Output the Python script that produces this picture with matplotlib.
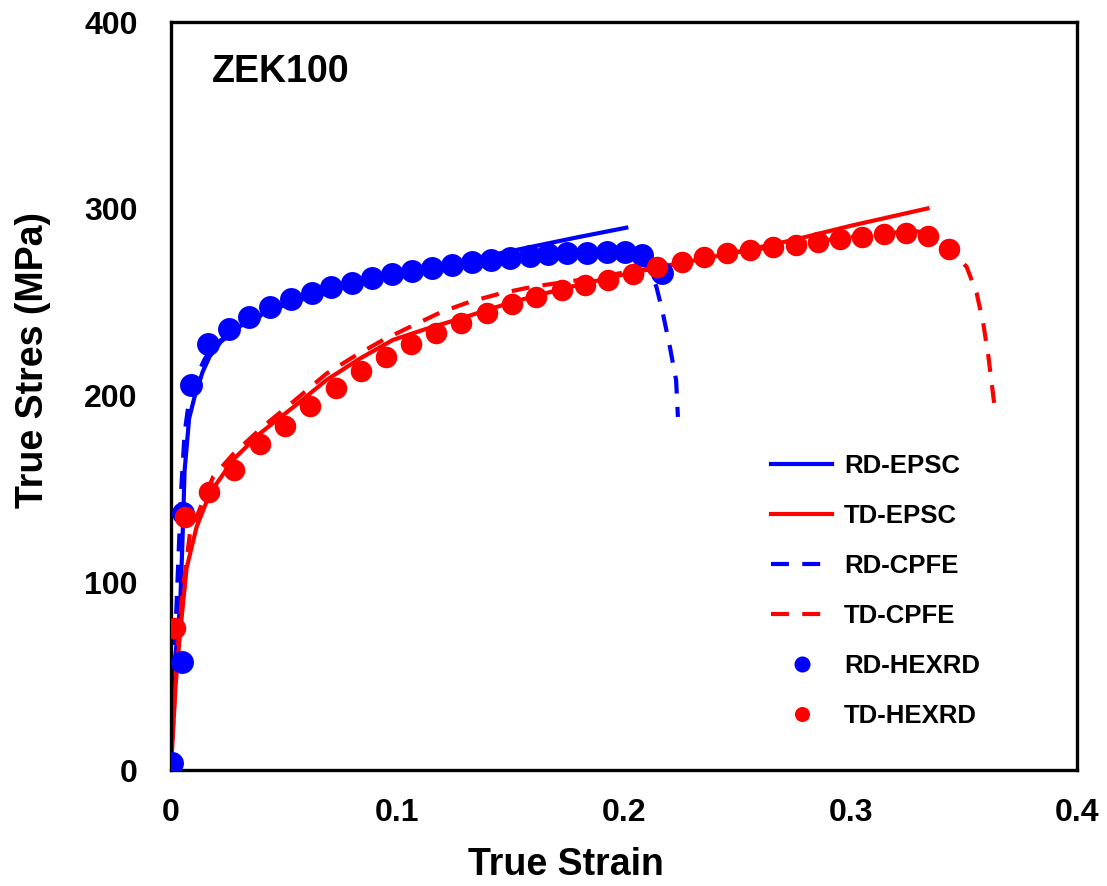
import matplotlib
matplotlib.use("Agg")
import matplotlib.pyplot as plt

plt.rcParams["font.family"] = ["Liberation Sans", "DejaVu Sans"]
plt.rcParams["font.weight"] = "bold"

# measured data (HEXRD)
rd_hexrd_strain = [0.0005, 0.0049, 0.0053, 0.0088, 0.0163, 0.0256, 0.0344, 0.0437,
                   0.053, 0.0623, 0.0706, 0.0799, 0.0887, 0.0976, 0.1064, 0.1152,
                   0.1241, 0.1329, 0.1413, 0.1497, 0.1585, 0.1664, 0.1748, 0.1837,
                   0.1925, 0.2004, 0.208, 0.2168]
rd_hexrd_stress = [3.7, 57.8, 137.4, 206, 227.8, 236, 242, 247.6,
                   252, 255, 258.3, 260.4, 263, 265, 267, 268.4,
                   270, 271.7, 272.7, 273.8, 274.9, 276, 276.5, 276.5,
                   277, 277, 275.4, 266]

td_hexrd_strain = [0.0018, 0.0062, 0.0168, 0.0278, 0.0393, 0.0503, 0.0614, 0.0728,
                   0.0839, 0.0949, 0.106, 0.117, 0.128, 0.1395, 0.1506, 0.1611,
                   0.1726, 0.1828, 0.1929, 0.204, 0.2146, 0.2256, 0.2353, 0.2455,
                   0.2556, 0.2658, 0.2759, 0.2856, 0.2953, 0.3051, 0.3148, 0.3245,
                   0.3342, 0.3435]
td_hexrd_stress = [75.9, 135.3, 148.7, 160.4, 174.3, 184, 194.7, 204.3,
                   213.4, 220.9, 227.8, 233.7, 239, 244.4, 249.2, 252.9,
                   256.7, 259.4, 262, 265.2, 269, 271.7, 274.3, 276.5,
                   278, 279.7, 280.7, 282.4, 284, 285, 286.6, 287.2,
                   285.6, 278.6]

# model curves
rd_epsc_strain = [0, 0.0015, 0.003, 0.004, 0.005, 0.006, 0.008, 0.0105, 0.014, 0.017,
                  0.022, 0.03, 0.04, 0.05, 0.06, 0.08, 0.10, 0.12, 0.14, 0.16, 0.18, 0.201]
rd_epsc_stress = [0, 55, 75, 87, 120, 160, 188, 200, 213, 221,
                  229, 237, 243.5, 248.5, 252.5, 259.5, 265.5, 270.5, 275, 280, 285, 290]

td_epsc_strain = [0, 0.002, 0.004, 0.0069, 0.0113, 0.0172, 0.0275, 0.0393, 0.055, 0.0687,
                  0.0834, 0.098, 0.113, 0.128, 0.15, 0.175, 0.2, 0.225, 0.25, 0.275, 0.3, 0.334]
td_epsc_stress = [0, 45, 73, 108, 130, 148, 166, 180, 195, 208.6,
                  220, 230, 236, 241.5, 250, 258, 265, 271, 277, 283.5, 291, 300.3]

rd_cpfe_strain = [0, 0.0015, 0.003, 0.0045, 0.006, 0.008, 0.011, 0.015, 0.02, 0.03,
                  0.05, 0.07, 0.1, 0.13, 0.16, 0.19, 0.2, 0.207, 0.212, 0.2144, 0.2172,
                  0.2203, 0.223, 0.2238]
rd_cpfe_stress = [0, 60, 105, 150, 180, 198, 210, 220, 228, 237,
                  249, 257, 266, 272, 276, 278, 277, 274, 266, 258, 244,
                  226, 208.5, 188.8]

td_cpfe_strain = [0, 0.002, 0.0047, 0.0084, 0.0187, 0.0275, 0.04, 0.055, 0.0687, 0.082,
                  0.0937, 0.1063, 0.1195, 0.132, 0.146, 0.16, 0.18, 0.2, 0.22, 0.25,
                  0.28, 0.3, 0.32, 0.33, 0.3395, 0.345, 0.3513, 0.3557, 0.3586, 0.3609,
                  0.3638]
td_cpfe_stress = [0, 50, 91, 127, 157, 169, 183, 198, 212, 222,
                  230, 237.4, 245, 250.4, 255, 258.5, 262, 266, 270, 277,
                  282, 285, 287.5, 288, 283.4, 277, 269, 255, 239, 221,
                  192.5]

BLUE = "#0000ff"
RED = "#ff0000"

fig = plt.figure(figsize=(11.07, 8.86), dpi=100)
ax = fig.add_axes([171 / 1107, 1 - 770 / 886, 906 / 1107, 748 / 886])

ax.plot(rd_epsc_strain, rd_epsc_stress, color=BLUE, lw=3, label="RD-EPSC", zorder=2)
ax.plot(td_epsc_strain, td_epsc_stress, color=RED, lw=3, label="TD-EPSC", zorder=2)
ax.plot(rd_cpfe_strain, rd_cpfe_stress, color=BLUE, lw=3, dashes=(4.3, 3.2),
        label="RD-CPFE", zorder=2)
ax.plot(td_cpfe_strain, td_cpfe_stress, color=RED, lw=3, dashes=(4.3, 3.2),
        label="TD-CPFE", zorder=2)
ax.plot(rd_hexrd_strain, rd_hexrd_stress, "o", color=BLUE, ms=16.5, mew=0,
        label="RD-HEXRD", zorder=3)
ax.plot(td_hexrd_strain, td_hexrd_stress, "o", color=RED, ms=15.5, mew=0,
        label="TD-HEXRD", zorder=4)

ax.set_xlim(0, 0.4)
ax.set_ylim(0, 400)
ax.set_xticks([0, 0.1, 0.2, 0.3, 0.4])
ax.set_xticklabels(["0", "0.1", "0.2", "0.3", "0.4"])
ax.set_yticks([0, 100, 200, 300, 400])
ax.tick_params(length=0, labelsize=23, pad=20)
ax.tick_params(axis="y", pad=24)
for s in ax.spines.values():
    s.set_linewidth(2.4)

ax.set_xlabel("True Strain", fontsize=27, fontweight="bold")
ax.set_ylabel("True Stres (MPa)", fontsize=27, fontweight="bold")
ax.xaxis.set_label_coords(0.436, -0.103)
ax.yaxis.set_label_coords(-0.132, 0.548)

ax.text(0.045, 0.933, "ZEK100", transform=ax.transAxes, fontsize=27,
        fontweight="bold", va="center", ha="left")

leg = ax.legend(loc="upper left", bbox_to_anchor=(0.662, 0.4225), frameon=False,
                fontsize=18.5, handlelength=2.4, handletextpad=0.45,
                labelspacing=1.01, markerscale=0.7, borderpad=0, borderaxespad=0)

fig.savefig("out.png", dpi=100)
